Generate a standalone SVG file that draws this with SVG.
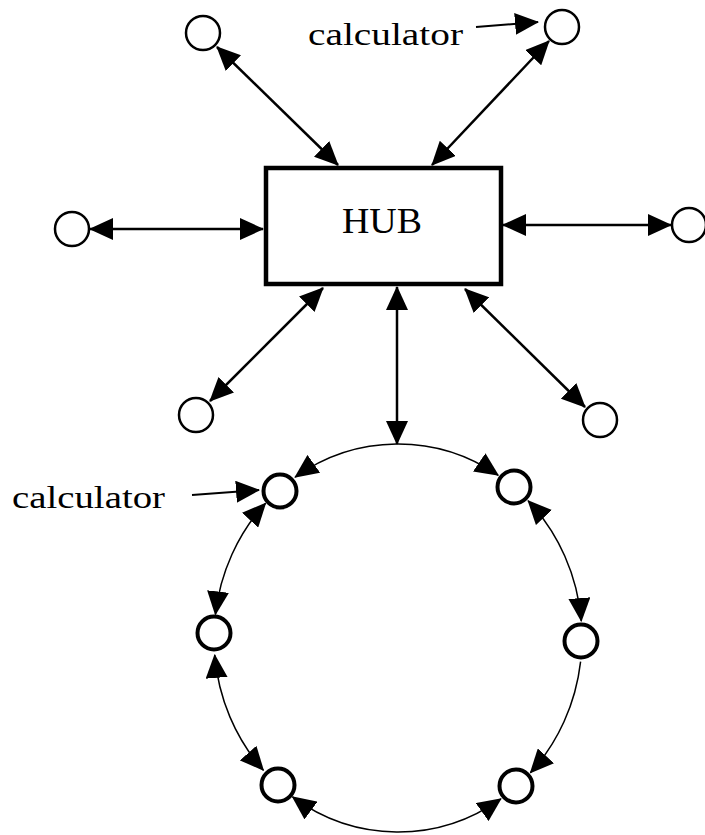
<svg xmlns="http://www.w3.org/2000/svg" width="705" height="835" viewBox="0 0 705 835">
  <style>
    .bg { fill: #ffffff; }
    .node { fill: #ffffff; stroke: #000000; stroke-width: 2.5; }
    .ring-node { fill: #ffffff; stroke: #000000; stroke-width: 4; }
    .hub { fill: #ffffff; stroke: #000000; stroke-width: 4.5; }
    .link { fill: none; stroke: #000000; stroke-width: 2.5; marker-start: url(#head); marker-end: url(#head); }
    .arc { fill: none; stroke: #000000; stroke-width: 1.5; }
    .arc2 { marker-start: url(#head); marker-end: url(#head); }
    .arc1 { marker-end: url(#head); }
    .pointer { fill: none; stroke: #000000; stroke-width: 2; marker-end: url(#head); }
    .label { font-family: "Liberation Serif", "Times New Roman", serif; fill: #000000; }
  </style>
  <defs>
    <marker id="head" viewBox="0 0 24 22" refX="23" refY="11" markerWidth="24" markerHeight="22" markerUnits="userSpaceOnUse" orient="auto-start-reverse">
      <path d="M0,0 L24,11 L0,22 Z" fill="#000000"/>
    </marker>
  </defs>

  <rect class="bg" x="0" y="0" width="705" height="835"/>

  <!-- connectors -->
  <g id="connectors">
    <!-- hub spokes -->
    <line class="link" x1="217" y1="47" x2="338" y2="165"/>
    <line class="link" x1="549" y1="41" x2="432" y2="165"/>
    <line class="link" x1="90" y1="229" x2="263" y2="229"/>
    <line class="link" x1="503" y1="225" x2="671" y2="225"/>
    <line class="link" x1="210" y1="401" x2="323" y2="288"/>
    <line class="link" x1="465" y1="289" x2="585" y2="407"/>
    <line class="link" x1="397" y1="287" x2="397" y2="444"/>
    <!-- ring arcs -->
    <path class="arc arc2" d="M295.1,477.2 A184,194 0 0 1 498.2,475.3"/>
    <path class="arc arc2" d="M528.1,500.8 A184,194 0 0 1 581.3,621.1"/>
    <path class="arc arc1" d="M580.6,661.6 A184,194 0 0 1 530.4,772.8"/>
    <path class="arc arc2" d="M500.9,798.8 A184,194 0 0 1 292.5,796.9"/>
    <path class="arc arc2" d="M263.4,770.3 A184,194 0 0 1 214.7,654.9"/>
    <path class="arc arc2" d="M215.4,614.4 A184,194 0 0 1 265.6,503.2"/>
    <!-- label pointers -->
    <line class="pointer" x1="476" y1="27" x2="538" y2="22"/>
    <line class="pointer" x1="192" y1="495" x2="259" y2="490"/>
  </g>

  <!-- hub -->
  <g id="hub">
    <rect class="hub" x="266" y="168" width="235" height="116"/>
    <text class="label" x="382" y="233" font-size="36" text-anchor="middle" textLength="80" lengthAdjust="spacingAndGlyphs">HUB</text>
  </g>

  <!-- outer calculators -->
  <g id="node-top-left"><circle class="node" cx="203" cy="33" r="17"/></g>
  <g id="node-top-right"><circle class="node" cx="562" cy="27" r="17"/></g>
  <g id="node-left"><circle class="node" cx="72" cy="229" r="17"/></g>
  <g id="node-right"><circle class="node" cx="689" cy="225" r="17"/></g>
  <g id="node-bottom-left"><circle class="node" cx="196" cy="415" r="17"/></g>
  <g id="node-bottom-right"><circle class="node" cx="600" cy="420" r="17"/></g>

  <!-- ring calculators -->
  <g id="ring-top-left"><circle class="ring-node" cx="280" cy="491" r="16.5"/></g>
  <g id="ring-top-right"><circle class="ring-node" cx="514" cy="487" r="16.5"/></g>
  <g id="ring-left"><circle class="ring-node" cx="214" cy="633" r="16.5"/></g>
  <g id="ring-right"><circle class="ring-node" cx="581" cy="641" r="16.5"/></g>
  <g id="ring-bottom-left"><circle class="ring-node" cx="278" cy="785" r="16.5"/></g>
  <g id="ring-bottom-right"><circle class="ring-node" cx="516" cy="786" r="16.5"/></g>

  <!-- labels -->
  <g id="label-top">
    <text class="label" x="308" y="45" font-size="32" textLength="155" lengthAdjust="spacingAndGlyphs">calculator</text>
  </g>
  <g id="label-ring">
    <text class="label" x="12" y="508" font-size="32" textLength="153" lengthAdjust="spacingAndGlyphs">calculator</text>
  </g>
</svg>
